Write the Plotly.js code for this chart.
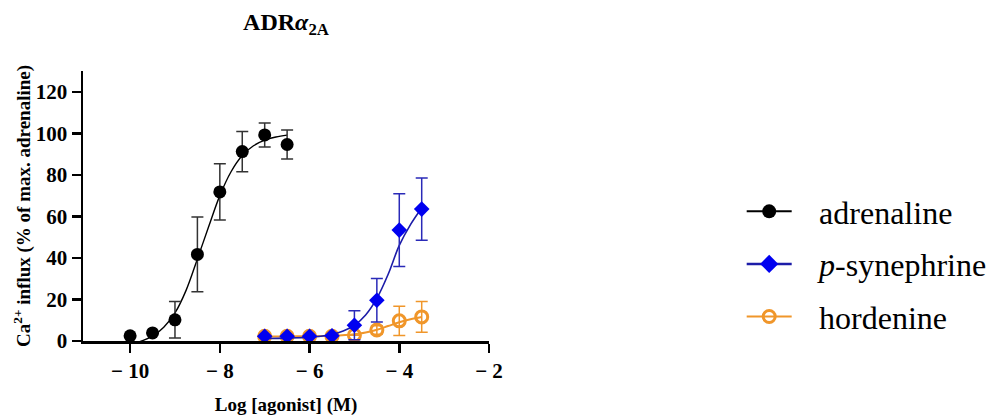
<!DOCTYPE html>
<html>
<head>
<meta charset="utf-8">
<script src="https://cdn.plot.ly/plotly-3.0.1.min.js"></script>
<style>html,body{margin:0;padding:0;background:#fff;}#chart{width:986px;height:416px;}</style>
</head>
<body>
<div id="chart"></div>
<script>
// ---- data ----
const seriesNames = ["adrenaline", "<i>p</i>-synephrine", "hordenine"];

const logConcAdrenaline = [-10, -9.5, -9, -8.5, -8, -7.5, -7, -6.5];
const adrenaline = [2.5, 3.9, 10.2, 41.7, 71.8, 91.2, 99.2, 94.6];
const adrenalineSEM = [0, 0, 8.8, 18, 13.6, 9.7, 5.8, 7];

const logConcOther = [-7, -6.5, -6, -5.5, -5, -4.5, -4, -3.5];
const synephrine = [2.3, 2.3, 2.3, 2.5, 7.6, 19.6, 53.4, 63.5];
const synephrineSEM = [0, 0, 0, 0, 7, 10.5, 17.5, 15];
const hordenine = [2.3, 2.3, 2.3, 2.3, 2.8, 5.3, 9.7, 11.6];
const hordenineSEM = [0, 0, 0, 0, 0, 2, 7, 7.4];

// fitted curves
const fitXAdrenaline = [-9.85, -9.5, -9.25, -9, -8.75, -8.5, -8.25, -8, -7.75, -7.5, -7.25, -7, -6.75, -6.5];
const fitYAdrenaline = [-0.8, 2.3, 6.6, 13.5, 24.5, 39.5, 55, 70, 81.5, 89.3, 94, 96.7, 98.2, 99.1];
const fitXSynephrine = [-7, -6.5, -6, -5.75, -5.5, -5.25, -5, -4.75, -4.5, -4.25, -4, -3.75, -3.5];
const fitYSynephrine = [1.2, 1.4, 1.8, 2.3, 3.2, 4.8, 7.5, 12.5, 20.5, 32, 46, 56, 64];
const fitXHordenine = [-7, -6.5, -6, -5.5, -5, -4.75, -4.5, -4.25, -4, -3.75, -3.5];
const fitYHordenine = [2.2, 2.2, 2.3, 2.5, 3.2, 4.1, 5.4, 7.2, 9.0, 10.5, 11.6];

const xTicks = [-10, -8, -6, -4, -2];
const yTicks = [0, 20, 40, 60, 80, 100, 120];

// ---- styles ----
const cBlack = "#000000", cBlueM = "#0000f0", cBlueL = "#1c1ca8", cOrange = "#f0962a";
const serif = "Liberation Serif";
const legendPad = "\u2002\u2009";

const traces = [
  {x: fitXHordenine, y: fitYHordenine, mode: "lines", line: {color: cOrange, width: 2, shape: "spline"}, showlegend: false, hoverinfo: "skip"},
  {x: logConcOther, y: hordenine, mode: "markers", showlegend: false,
   marker: {symbol: "circle-open", size: 12, color: cOrange, line: {width: 3, color: cOrange}},
   error_y: {type: "data", array: hordenineSEM, color: cOrange, thickness: 1.5, width: 6}},
  {x: fitXSynephrine, y: fitYSynephrine, mode: "lines", line: {color: cBlueL, width: 1.6, shape: "spline"}, showlegend: false, hoverinfo: "skip"},
  {x: logConcOther, y: synephrine, mode: "markers", showlegend: false,
   marker: {symbol: "diamond", size: 12, color: cBlueM},
   error_y: {type: "data", array: synephrineSEM, color: "#2a2ab8", thickness: 1.5, width: 6}},
  {x: fitXAdrenaline, y: fitYAdrenaline, mode: "lines", line: {color: cBlack, width: 1.4, shape: "spline"}, showlegend: false, hoverinfo: "skip"},
  {x: logConcAdrenaline, y: adrenaline, mode: "markers", showlegend: false,
   marker: {symbol: "circle", size: 13, color: cBlack},
   error_y: {type: "data", array: adrenalineSEM, color: "#333", thickness: 1.5, width: 6}},
  // legend entries
  {x: [null], y: [null], name: legendPad + seriesNames[0], legendgroup: "a", mode: "lines+markers",
   line: {color: cBlack, width: 2}, marker: {symbol: "circle", size: 14, color: cBlack}},
  {x: [null], y: [null], name: legendPad + seriesNames[1], legendgroup: "b", mode: "lines+markers",
   line: {color: cBlueL, width: 2.5}, marker: {symbol: "diamond", size: 14, color: cBlueM}},
  {x: [null], y: [null], name: legendPad + seriesNames[2], legendgroup: "c", mode: "lines+markers",
   line: {color: cOrange, width: 2}, marker: {symbol: "circle-open", size: 12, color: cOrange, line: {width: 3, color: cOrange}}}
];

const axisFont = {family: serif, size: 21, color: "#000", weight: "bold"};
const titleFont = {family: serif, size: 19, weight: "bold", color: "#000"};
const layout = {
  width: 986, height: 416,
  margin: {l: 83, r: 497, t: 71, b: 75, autoexpand: false},
  paper_bgcolor: "#fff", plot_bgcolor: "#fff",
  font: {family: serif, color: "#000"},
  title: {text: "ADR<i>α</i><sub>2A</sub>", font: {family: serif, size: 24, weight: "bold", color: "#000"},
          x: 0.5, xref: "paper", xanchor: "center", y: 0.948, yref: "container", yanchor: "middle"},
  xaxis: {range: [-11.05, -2], tickvals: xTicks, ticktext: xTicks.map(v => "\u2212 " + Math.abs(v)),
          showline: true, linecolor: "#000", linewidth: 2.5, ticks: "outside", ticklen: 9, tickwidth: 2.5, tickcolor: "#000",
          showgrid: false, zeroline: false, tickfont: axisFont, fixedrange: true, automargin: false,
          title: {text: "Log [agonist] (M)", font: titleFont, standoff: 18}},
  yaxis: {range: [0, 130], tickvals: yTicks, showline: true, linecolor: "#000", linewidth: 2.5,
          ticks: "outside", ticklen: 9, tickwidth: 2.5, tickcolor: "#000", showgrid: false, zeroline: false,
          tickfont: axisFont, fixedrange: true, automargin: false,
          title: {text: "Ca<sup>2+</sup> influx (% of max. adrenaline)", font: titleFont, standoff: 0}},
  legend: {x: 1.6224, xanchor: "left", y: 0.285, yanchor: "middle", font: {family: serif, size: 32, color: "#000"},
           bgcolor: "rgba(0,0,0,0)", tracegroupgap: 8, itemwidth: 45, traceorder: "grouped"},
  showlegend: true
};

Plotly.newPlot("chart", traces, layout, {displayModeBar: false, staticPlot: true});
</script>
</body>
</html>
